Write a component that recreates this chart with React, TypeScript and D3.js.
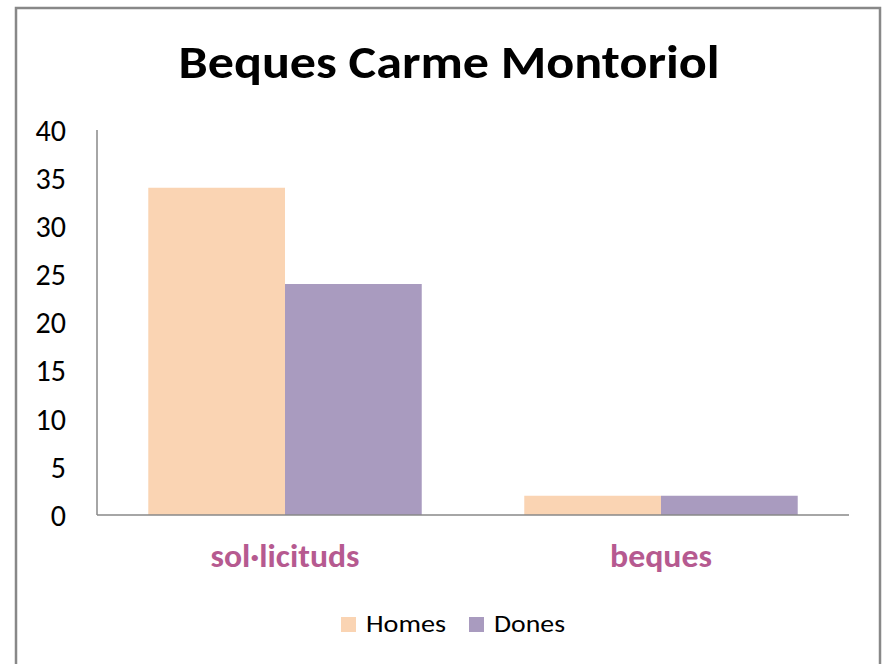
import React from "react";
import * as d3 from "d3";

const categories = ["sol·licituds", "beques"];
const seriesNames = ["Homes", "Dones"];
const homes = [34, 2];
const dones = [24, 2];
const yTicks = [0, 5, 10, 15, 20, 25, 30, 35, 40];
const title = "Beques Carme Montoriol";

const colors = ["#FAD4B3", "#A99BBF"];
const FONT = "Carlito, Calibri, Lato, 'Open Sans', sans-serif";

export default function App() {
  const W = 884, H = 664;
  const left = 97, right = 849, top = 130, bottom = 515;
  const x0 = d3.scaleBand().domain(categories).range([left, right]).paddingInner(0.2727).paddingOuter(0.1364);
  const x1 = d3.scaleBand().domain(seriesNames).range([0, x0.bandwidth()]);
  const y = d3.scaleLinear().domain([0, 40]).range([bottom, top]);
  const data = [homes, dones];
  const catWidths = [149, 102];
  const legendWidths = [80, 71];

  return (
    <svg width={W} height={H} style={{ position: "absolute", left: 0, top: 0 }} fontFamily={FONT}>
      <rect x={0} y={0} width={W} height={H} fill="#fff" />
      <rect x={16} y={8} width={864} height={H} fill="#fff" stroke="#888" strokeWidth={2.5} />
      <text x={449} y={78} textAnchor="middle" fontSize={46} fontWeight="bold" fill="#000" textLength={541} lengthAdjust="spacingAndGlyphs">{title}</text>
      {yTicks.map((t) => (
        <text key={t} x={66} y={y(t)} dy="0.36em" textAnchor="end" fontSize={30} fill="#000">{t}</text>
      ))}
      {categories.map((c, ci) =>
        seriesNames.map((s, si) => (
          <rect key={c + s} x={(x0(c) ?? 0) + (x1(s) ?? 0)} y={y(data[si][ci])} width={x1.bandwidth()} height={bottom - y(data[si][ci])} fill={colors[si]} />
        ))
      )}
      <line x1={left} x2={left} y1={top} y2={bottom} stroke="#888" strokeWidth={1.5} />
      <line x1={left} x2={right} y1={bottom} y2={bottom} stroke="#888" strokeWidth={1.5} />
      {categories.map((c, i) => (
        <text key={c} x={(x0(c) ?? 0) + x0.bandwidth() / 2} y={567} textAnchor="middle" fontSize={32} fontWeight="bold" fill="#B65A90" textLength={catWidths[i]} lengthAdjust="spacingAndGlyphs">{c}</text>
      ))}
      {seriesNames.map((s, i) => {
        const lx = [341, 469][i];
        return (
          <g key={s}>
            <rect x={lx} y={617} width={15} height={15} fill={colors[i]} />
            <text x={lx + 25} y={632} fontSize={25} fill="#000" textLength={legendWidths[i]} lengthAdjust="spacingAndGlyphs">{s}</text>
          </g>
        );
      })}
    </svg>
  );
}
